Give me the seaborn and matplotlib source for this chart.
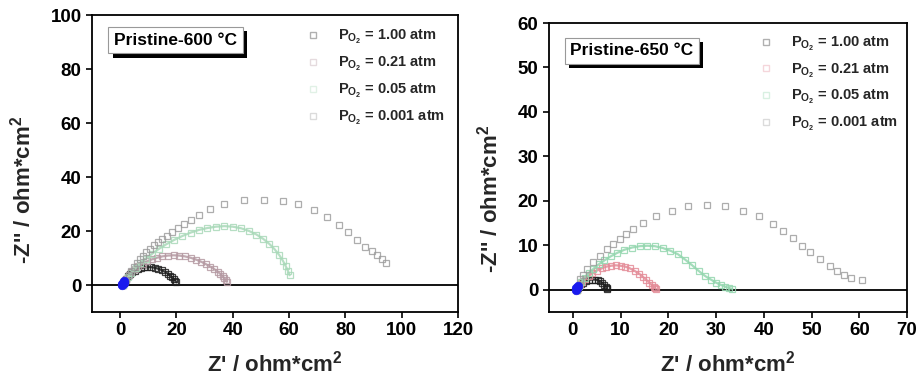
import matplotlib
matplotlib.use("Agg")
import matplotlib.pyplot as plt
import matplotlib.patheffects as pe
from matplotlib.lines import Line2D
import seaborn as sns
import pandas as pd

# ---------------- data ----------------
series_labels = ["1.00", "0.21", "0.05", "0.001"]

# Pristine-600 °C
L_100_x = [1.0, 1.3, 1.7, 2.2, 2.8, 3.5, 4.3, 5.2, 6.2, 7.3, 8.5, 9.7, 11.0, 12.3, 13.6, 14.8, 15.9, 16.9, 17.8, 18.5, 19.1, 19.6, 20.0]
L_100_y = [0.1, 0.8, 1.6, 2.4, 3.2, 4.0, 4.7, 5.3, 5.8, 6.2, 6.5, 6.6, 6.6, 6.4, 6.0, 5.5, 4.9, 4.2, 3.5, 2.8, 2.1, 1.5, 1.0]
L_021_x = [1.0, 1.5, 2.2, 3.0, 4.0, 5.2, 6.5, 8.0, 9.6, 11.3, 13.1, 15.0, 17.0, 19.0, 21.0, 23.0, 25.0, 27.0, 28.8, 30.5, 32.0, 33.4, 34.6, 35.6, 36.4, 37.0, 37.5, 37.9]
L_021_y = [0.1, 1.2, 2.4, 3.6, 4.8, 5.9, 6.9, 7.9, 8.8, 9.5, 10.1, 10.6, 10.9, 11.0, 10.9, 10.6, 10.1, 9.4, 8.6, 7.7, 6.8, 5.9, 5.0, 4.1, 3.3, 2.5, 1.8, 1.2]
L_005_x = [1.0, 1.8, 2.8, 4.0, 5.5, 7.2, 9.2, 11.4, 13.8, 16.4, 19.2, 22.0, 25.0, 28.0, 31.0, 34.0, 37.0, 40.0, 43.0, 45.8, 48.4, 50.8, 53.0, 54.9, 56.5, 57.8, 58.8, 59.6, 60.2]
L_005_y = [0.1, 1.5, 3.0, 4.6, 6.3, 8.0, 9.8, 11.6, 13.4, 15.1, 16.7, 18.1, 19.4, 20.4, 21.1, 21.6, 21.8, 21.6, 21.0, 20.0, 18.7, 17.1, 15.2, 13.2, 11.1, 9.0, 7.0, 5.2, 3.6]
L_0001_x = [2.0, 3.0, 4.0, 5.0, 6.0, 7.0, 8.0, 9.2, 10.5, 12.0, 13.5, 15.0, 16.7, 18.5, 20.5, 22.8, 25.2, 28.0, 32.0, 37.0, 44.0, 51.0, 57.7, 63.0, 68.8, 73.5, 77.8, 81.0, 84.3, 87.0, 89.3, 91.3, 93.0, 94.5]
L_0001_y = [2.0, 3.7, 5.3, 6.8, 8.2, 9.6, 10.9, 12.2, 13.5, 14.8, 16.0, 17.1, 18.3, 19.6, 21.0, 22.6, 24.1, 25.8, 28.0, 30.0, 31.5, 31.6, 31.1, 30.0, 27.8, 25.3, 22.2, 19.5, 16.5, 14.2, 12.5, 11.0, 9.5, 8.1]
L_hf_x = [0.6, 0.8, 1.0, 1.2, 1.5]
L_hf_y = [0.0, 0.3, 0.6, 0.9, 1.3]

# Pristine-650 °C
R_100_x = [0.8, 1.0, 1.3, 1.7, 2.2, 2.8, 3.4, 4.0, 4.6, 5.2, 5.7, 6.2, 6.6, 6.9, 7.1, 7.2]
R_100_y = [0.0, 0.4, 0.8, 1.2, 1.6, 1.9, 2.2, 2.3, 2.3, 2.2, 1.9, 1.5, 1.1, 0.7, 0.4, 0.2]
R_021_x = [0.8, 1.1, 1.5, 2.0, 2.6, 3.3, 4.1, 5.0, 6.0, 7.0, 8.0, 9.0, 10.0, 11.0, 12.0, 13.0, 13.9, 14.7, 15.4, 16.0, 16.5, 16.9, 17.2, 17.4]
R_021_y = [0.0, 0.6, 1.2, 1.8, 2.5, 3.1, 3.7, 4.3, 4.8, 5.2, 5.4, 5.5, 5.4, 5.2, 4.8, 4.2, 3.6, 2.9, 2.2, 1.6, 1.1, 0.7, 0.4, 0.2]
R_005_x = [0.8, 1.2, 1.8, 2.5, 3.3, 4.3, 5.4, 6.6, 7.9, 9.3, 10.8, 12.4, 14.0, 15.6, 17.2, 18.8, 20.4, 22.0, 23.5, 25.0, 26.4, 27.7, 28.9, 30.0, 31.0, 31.9, 32.7, 33.4]
R_005_y = [0.0, 0.8, 1.7, 2.7, 3.7, 4.7, 5.7, 6.6, 7.5, 8.3, 9.0, 9.5, 9.8, 9.9, 9.8, 9.4, 8.8, 8.0, 6.8, 5.5, 4.2, 3.1, 2.3, 1.6, 1.1, 0.7, 0.4, 0.2]
R_0001_x = [1.5, 2.2, 3.0, 4.3, 5.6, 7.1, 8.5, 9.9, 11.2, 12.6, 14.7, 17.5, 20.7, 24.2, 28.0, 31.9, 35.7, 38.9, 42.0, 44.1, 46.2, 47.9, 49.7, 51.8, 53.9, 55.3, 56.7, 58.2, 60.5]
R_0001_y = [2.4, 3.4, 4.6, 6.2, 7.7, 9.2, 10.3, 11.4, 12.5, 13.6, 15.1, 16.6, 17.7, 18.9, 19.0, 18.9, 17.7, 16.6, 14.8, 13.3, 11.6, 9.9, 8.4, 6.9, 5.4, 4.3, 3.4, 2.7, 2.1]
R_hf_x = [0.6, 0.7, 0.8, 1.0]
R_hf_y = [0.0, 0.3, 0.5, 0.9]

left_title = "Pristine-600 °C"
right_title = "Pristine-650 °C"
left_xticks = [0, 20, 40, 60, 80, 100, 120]
left_yticks = [0, 20, 40, 60, 80, 100]
right_xticks = [0, 10, 20, 30, 40, 50, 60, 70]
right_yticks = [0, 10, 20, 30, 40, 50, 60]

# ---------------- style ----------------
sns.set_style("ticks")
plt.rcParams["font.family"] = ["Liberation Sans", "DejaVu Sans"]
plt.rcParams["font.weight"] = "bold"
plt.rcParams["mathtext.fontset"] = "custom"
plt.rcParams["mathtext.bf"] = "Liberation Sans:bold"
plt.rcParams["mathtext.rm"] = "Liberation Sans:bold"
plt.rcParams["mathtext.default"] = "bf"

left_colors = ["#1e1e1e", "#b59aa3", "#a9d9b9", "#999999"]
right_colors = ["#1e1e1e", "#e48c98", "#93d6ae", "#999999"]
blue = "#1a1aee"

fig = plt.figure(figsize=(9.19, 3.81), dpi=100)
axL = fig.add_axes([92 / 919, 69 / 381, 366 / 919, 297 / 381])
axR = fig.add_axes([549 / 919, 69 / 381, 358 / 919, 289 / 381])


def make_df(xs, ys, labels):
    rows = []
    for xv, yv, lab in zip(xs, ys, labels):
        for a, b in zip(xv, yv):
            rows.append({"x": a, "y": b, "series": lab})
    return pd.DataFrame(rows)


def draw(ax, df, hf_x, hf_y, colors, title, xlim, ylim, xticks, yticks,
         ylab_pos, title_pos, leg_anchor):
    for lab, col in zip(series_labels, colors):
        sub = df[df["series"] == lab]
        dense = lab != "0.001"
        sns.lineplot(data=sub, x="x", y="y", ax=ax, sort=False, estimator=None,
                     color=col, lw=1.6 if dense else 0, marker="s",
                     markersize=4.5 if not dense else 4, mfc="none", mec=col,
                     mew=0.9, alpha=0.85 if dense else 0.8, legend=False)
    sns.scatterplot(x=hf_x, y=hf_y, ax=ax, color=blue, s=38, edgecolor=blue,
                    legend=False, zorder=6)
    ax.axhline(0, color="black", lw=1.3, zorder=0.5)
    ax.set_xlim(*xlim)
    ax.set_ylim(*ylim)
    ax.set_xticks(xticks)
    ax.set_yticks(yticks)
    ax.tick_params(axis="both", direction="out", length=4, width=1.2, labelsize=13.5,
                   colors="black")
    for lbl in ax.get_xticklabels() + ax.get_yticklabels():
        lbl.set_fontweight("bold")
    for sp in ax.spines.values():
        sp.set_visible(True)
        sp.set_color("black")
        sp.set_linewidth(1.3)
    ax.set_xlabel("Z' / ohm*cm$^{2}$", fontsize=16, fontweight="bold", labelpad=8)
    ax.set_ylabel("-Z'' / ohm*cm$^{2}$", fontsize=16, fontweight="bold")
    ax.yaxis.set_label_coords(*ylab_pos)

    # title box with drop shadow
    t = ax.text(title_pos[0], title_pos[1], title, transform=ax.transAxes, fontsize=12.5,
                fontweight="bold", ha="left", va="top", color="black", zorder=5,
                bbox=dict(boxstyle="square,pad=0.32", fc="white", ec="#999999", lw=0.8))
    t.get_bbox_patch().set_path_effects([
        pe.SimplePatchShadow(offset=(3, -3), shadow_rgbFace="black", alpha=1.0),
        pe.Normal()])

    handles = [Line2D([], [], ls="none", marker="s", ms=4, mfc="none", mec=c, alpha=0.35)
               for c in colors]
    labels = [r"P$_{O_2}$ = " + s + " atm" for s in series_labels]
    ax.legend(handles, labels, loc="upper right", bbox_to_anchor=leg_anchor,
              frameon=False, handletextpad=1.2, labelspacing=0.6, borderaxespad=0.0,
              handlelength=1.0, prop={"weight": "bold", "size": 10.5})


dfL = make_df([L_100_x, L_021_x, L_005_x, L_0001_x], [L_100_y, L_021_y, L_005_y, L_0001_y], series_labels)
dfR = make_df([R_100_x, R_021_x, R_005_x, R_0001_x], [R_100_y, R_021_y, R_005_y, R_0001_y], series_labels)

draw(axL, dfL, L_hf_x, L_hf_y, left_colors, left_title, (-10, 120), (-10, 100),
     left_xticks, left_yticks, (-0.155, 0.41), (0.06, 0.94), (0.98, 0.975))
draw(axR, dfR, R_hf_x, R_hf_y, right_colors, right_title, (-5, 70), (-5, 60),
     right_xticks, right_yticks, (-0.13, 0.39), (0.06, 0.93), (0.99, 0.98))

fig.savefig("out.png", dpi=100, facecolor="white")
